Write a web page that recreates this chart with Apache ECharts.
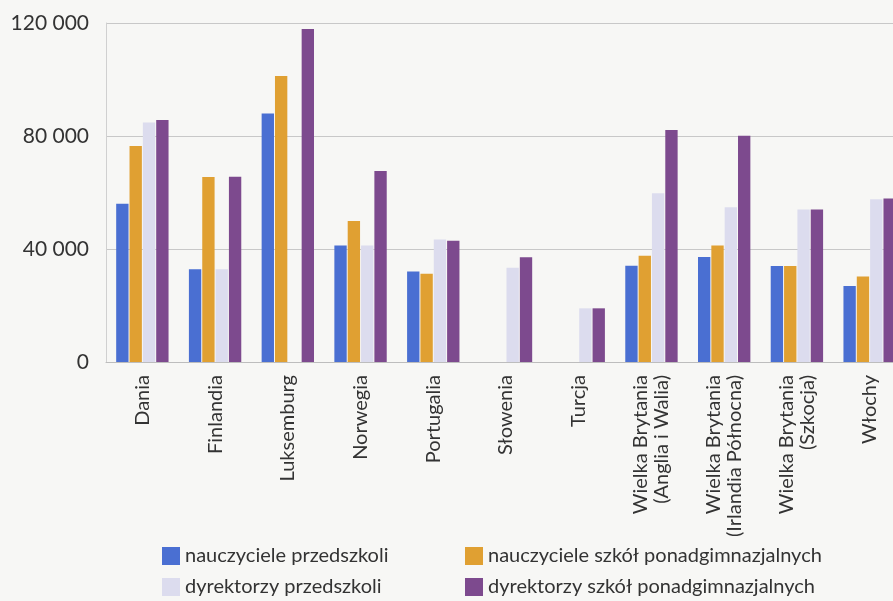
<!DOCTYPE html>
<html>
<head>
<meta charset="utf-8">
<script src="https://cdn.jsdelivr.net/npm/echarts@6/dist/echarts.min.js"></script>
<style>
  html, body { margin: 0; padding: 0; background: #f7f7f5; }
  #chart { width: 893px; height: 601px; }
</style>
</head>
<body>
<div id="chart"></div>
<script>
// Kraje / regiony
const categories = [
  'Dania', 'Finlandia', 'Luksemburg', 'Norwegia', 'Portugalia', 'Słowenia',
  'Turcja', 'Wielka Brytania\n(Anglia i Walia)', 'Wielka Brytania\n(Irlandia Północna)',
  'Wielka Brytania\n(Szkocja)', 'Włochy'
];

// Wynagrodzenia roczne
const nauczycielePrzedszkoli = [56000, 32800, 88000, 41200, 32000, null, null, 34100, 37200, 34000, 26900];
const nauczycieleSzkolPonadgim = [76500, 65500, 101200, 49900, 31200, null, null, 37600, 41200, 34000, 30300];
const dyrektorzyPrzedszkoli = [84800, 32800, null, 41200, 43400, 33400, 19000, 59700, 54800, 54000, 57600];
const dyrektorzySzkolPonadgim = [85700, 65600, 117900, 67600, 42900, 37100, 19000, 82100, 80100, 54000, 57900];

const yTicks = [0, 40000, 80000, 120000];

const seriesNames = [
  'nauczyciele przedszkoli',
  'nauczyciele szkół ponadgimnazjalnych',
  'dyrektorzy przedszkoli',
  'dyrektorzy szkół ponadgimnazjalnych'
];
const seriesData = [nauczycielePrzedszkoli, nauczycieleSzkolPonadgim, dyrektorzyPrzedszkoli, dyrektorzySzkolPonadgim];
const seriesColors = ['#4a6fd2', '#e0a032', '#dcdcee', '#7d4a8e'];

const font = 'Lato, "DejaVu Sans", sans-serif';
const textColor = '#333333';

function fmt(v) {
  return String(v).replace(/\B(?=(\d{3})+(?!\d))/g, ' ');
}

// legend entries laid out in two columns, two rows
const legendSlots = [
  { left: 162, top: 546 },
  { left: 465, top: 546 },
  { left: 162, top: 577 },
  { left: 465, top: 577 }
];

const chart = echarts.init(document.getElementById('chart'));

chart.setOption({
  backgroundColor: '#f7f7f5',
  animation: false,
  grid: { left: 106, width: 800, top: 23, bottom: 239, outerBoundsMode: 'none', containLabel: false },
  xAxis: {
    type: 'category',
    data: categories,
    axisLine: { show: true, lineStyle: { color: '#bdbdbd', width: 1 } },
    axisTick: { show: false },
    axisLabel: {
      rotate: 90,
      interval: 0,
      margin: 13,
      color: textColor,
      fontFamily: font,
      fontSize: 20,
      lineHeight: 21
    }
  },
  yAxis: {
    type: 'value',
    min: yTicks[0],
    max: yTicks[yTicks.length - 1],
    interval: 40000,
    axisLine: { show: true, lineStyle: { color: '#d0d0d0', width: 1 } },
    axisTick: { show: false },
    splitLine: { show: true, lineStyle: { color: '#c8c8c8', width: 1 } },
    axisLabel: {
      margin: 17,
      color: textColor,
      fontFamily: font,
      fontSize: 21,
      formatter: fmt
    }
  },
  legend: seriesNames.map((name, i) => ({
    data: [name],
    left: legendSlots[i].left,
    top: legendSlots[i].top,
    padding: 0,
    itemWidth: 18,
    itemHeight: 18,
    icon: 'rect',
    textStyle: { color: textColor, fontFamily: font, fontSize: 20 }
  })),
  series: seriesNames.map((name, i) => ({
    name: name,
    type: 'bar',
    data: seriesData[i],
    itemStyle: { color: seriesColors[i] },
    barGap: '8%',
    barCategoryGap: '28%'
  }))
});
</script>
</body>
</html>
